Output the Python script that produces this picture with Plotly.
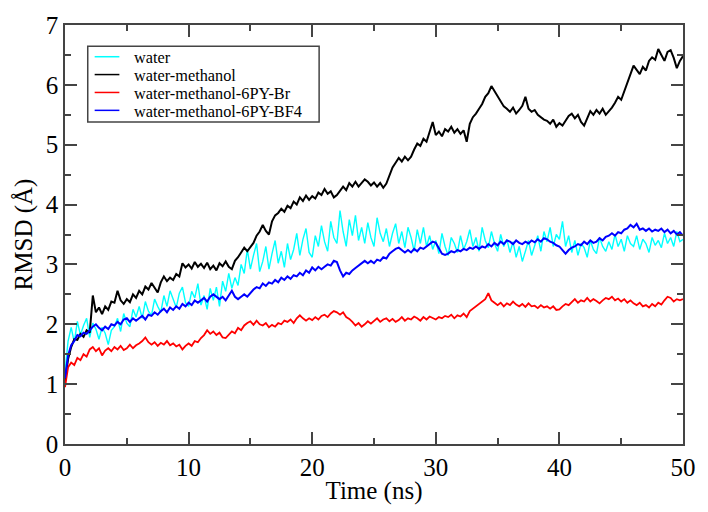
import plotly.graph_objects as go

# ---------------- data (RMSD in Angstrom, sampled every 0.25 ns) ----------------
TIME_STEP = 0.25

water = [
    1.20, 1.72, 1.95, 1.70, 2.05, 1.82, 1.98, 2.10,
    1.78, 2.02, 1.92, 1.75, 1.95, 1.85, 1.66, 1.90,
    1.96, 2.10, 1.88, 2.18, 2.02, 1.96, 2.25, 2.12,
    2.30, 2.10, 2.38, 2.22, 2.15, 2.42, 2.30, 2.20,
    2.48, 2.30, 2.56, 2.40, 2.28, 2.52, 2.62, 2.36,
    2.30, 2.55, 2.44, 2.68, 2.32, 2.48, 2.25, 2.60,
    2.40, 2.62, 2.30, 2.72, 2.55, 2.85, 2.60, 2.78,
    2.65, 3.00, 2.85, 3.25, 2.92, 3.15, 3.35, 2.88,
    3.05, 3.30, 2.92, 3.18, 3.40, 3.02, 3.22, 2.95,
    3.35, 3.08, 3.25, 3.52, 3.15, 3.42, 3.60, 3.20,
    3.12, 3.48, 3.30, 3.65, 3.38, 3.22, 3.72, 3.45,
    3.35, 3.90, 3.55, 3.30, 3.75, 3.48, 3.82, 3.40,
    3.62, 3.35, 3.70, 3.45, 3.30, 3.78, 3.52, 3.38,
    3.60, 3.30, 3.52, 3.68, 3.35, 3.55, 3.28, 3.62,
    3.45, 3.22, 3.58, 3.35, 3.62, 3.30, 3.48, 3.25,
    3.40, 3.18, 3.52, 3.30, 3.15, 3.45, 3.35, 3.20,
    3.48, 3.25, 3.38, 3.58, 3.30, 3.45, 3.22, 3.62,
    3.40, 3.28, 3.55, 3.35, 3.22, 3.50, 3.30, 3.42,
    3.20, 3.38, 3.12, 3.30, 3.05, 3.22, 3.40, 3.15,
    3.30, 3.48, 3.22, 3.55, 3.38, 3.62, 3.30, 3.50,
    3.42, 3.72, 3.30, 3.48, 3.20, 3.40, 3.15, 3.35,
    3.28, 3.12, 3.40, 3.25, 3.18, 3.45, 3.30, 3.22,
    3.38, 3.25, 3.50, 3.30, 3.42, 3.22, 3.48, 3.35,
    3.30, 3.48, 3.25, 3.42, 3.35, 3.20, 3.45, 3.32,
    3.40, 3.28, 3.52, 3.35, 3.45, 3.30, 3.55, 3.38,
    3.42,
]

water_methanol = [
    1.05, 1.42, 1.62, 1.75, 1.74, 1.84, 1.79, 1.90,
    1.86, 2.48, 2.20, 2.28, 2.17, 2.30, 2.24, 2.38,
    2.36, 2.56, 2.40, 2.34, 2.42, 2.37, 2.50, 2.44,
    2.56, 2.50, 2.63, 2.58, 2.69, 2.62, 2.53, 2.70,
    2.80, 2.72, 2.78, 2.74, 2.84, 2.80, 3.02, 2.95,
    3.00, 2.93, 3.04, 2.96, 3.01, 2.94, 3.03, 2.92,
    2.98, 2.90, 3.02, 2.97, 3.05, 2.96, 2.92, 3.06,
    3.12, 3.20, 3.28, 3.22, 3.30, 3.36, 3.48, 3.55,
    3.66, 3.56, 3.50, 3.72, 3.82, 3.86, 3.93, 3.88,
    3.98, 3.94, 4.05, 4.00, 4.12, 4.06, 4.15, 4.08,
    4.14, 4.10, 4.20, 4.16, 4.26, 4.18, 4.22, 4.12,
    4.16, 4.24, 4.30, 4.24, 4.36, 4.30, 4.38, 4.30,
    4.36, 4.42, 4.38, 4.32, 4.37, 4.30, 4.36, 4.28,
    4.35, 4.50, 4.62, 4.70, 4.78, 4.72, 4.80, 4.74,
    4.80, 4.92, 5.02, 4.98, 5.10, 5.05, 5.20, 5.38,
    5.16, 5.22, 5.14, 5.26, 5.22, 5.30, 5.20, 5.26,
    5.18, 5.24, 5.05, 5.35, 5.46, 5.52, 5.60, 5.68,
    5.80, 5.86, 5.98, 5.90, 5.80, 5.72, 5.64, 5.60,
    5.55, 5.62, 5.52, 5.58, 5.65, 5.80, 5.60, 5.55,
    5.58, 5.50, 5.46, 5.42, 5.40, 5.35, 5.42, 5.30,
    5.36, 5.32, 5.40, 5.48, 5.52, 5.44, 5.50, 5.38,
    5.32, 5.45, 5.56, 5.50, 5.58, 5.52, 5.60, 5.50,
    5.56, 5.62, 5.70, 5.80, 5.75, 5.90, 6.02, 6.20,
    6.32, 6.25, 6.18, 6.30, 6.24, 6.40, 6.46, 6.42,
    6.60, 6.50, 6.40, 6.55, 6.58, 6.45, 6.28, 6.40,
    6.48,
]

water_methanol_6py_br = [
    0.95, 1.28, 1.36, 1.32, 1.44, 1.40, 1.50, 1.46,
    1.58, 1.62, 1.55, 1.60, 1.48, 1.56, 1.60, 1.55,
    1.62, 1.58, 1.64, 1.57, 1.60, 1.66, 1.60, 1.65,
    1.68, 1.72, 1.78, 1.70, 1.66, 1.70, 1.64, 1.69,
    1.66, 1.72, 1.65, 1.68, 1.63, 1.66, 1.58, 1.64,
    1.68, 1.64, 1.72, 1.70, 1.77, 1.82, 1.90, 1.84,
    1.88, 1.82, 1.86, 1.78, 1.77, 1.83, 1.88, 1.85,
    1.94, 1.90, 1.98, 2.02, 2.05, 1.99, 2.06, 2.00,
    1.98, 2.02, 1.95, 1.99, 1.96, 2.02, 2.00, 2.06,
    2.04, 2.08, 2.02, 2.10, 2.15, 2.10, 2.06, 2.10,
    2.07, 2.12, 2.08, 2.14, 2.16, 2.12, 2.18, 2.22,
    2.20, 2.16, 2.20, 2.12, 2.09, 2.04, 1.98, 2.02,
    1.96, 2.00, 2.05, 2.01, 2.05, 2.10, 2.04, 2.08,
    2.10, 2.05, 2.09, 2.04, 2.07, 2.12, 2.06, 2.10,
    2.08, 2.13, 2.10, 2.06, 2.12, 2.08, 2.13, 2.10,
    2.08, 2.12, 2.10, 2.14, 2.12, 2.16, 2.10, 2.15,
    2.13, 2.18, 2.12, 2.22, 2.26, 2.30, 2.34, 2.38,
    2.42, 2.52, 2.40, 2.36, 2.32, 2.36, 2.30, 2.35,
    2.32, 2.38, 2.33, 2.30, 2.34, 2.29, 2.35, 2.30,
    2.31, 2.27, 2.32, 2.28, 2.30, 2.26, 2.30, 2.24,
    2.25, 2.30, 2.34, 2.32, 2.37, 2.42, 2.36, 2.40,
    2.38, 2.44, 2.38, 2.42, 2.39, 2.35, 2.40, 2.44,
    2.42, 2.46, 2.40, 2.43, 2.38, 2.42, 2.36, 2.40,
    2.35, 2.32, 2.36, 2.30, 2.32, 2.28, 2.34, 2.30,
    2.36, 2.33, 2.40, 2.46, 2.44, 2.38, 2.42, 2.40,
    2.42,
]

water_methanol_6py_bf4 = [
    1.10, 1.48, 1.65, 1.72, 1.82, 1.80, 1.86, 1.84,
    1.90, 1.96, 2.00, 1.94, 1.90, 1.96, 1.92, 2.00,
    1.98, 2.04, 2.00, 2.08, 2.10, 2.04, 2.10, 2.06,
    2.10, 2.14, 2.08, 2.16, 2.14, 2.20, 2.16, 2.22,
    2.26, 2.20, 2.28, 2.24, 2.30, 2.26, 2.34, 2.30,
    2.36, 2.32, 2.40, 2.36, 2.40, 2.44, 2.38, 2.46,
    2.50, 2.46, 2.42, 2.46, 2.40, 2.48, 2.56, 2.46,
    2.42, 2.46, 2.50, 2.46, 2.52, 2.58, 2.62, 2.60,
    2.68, 2.64, 2.70, 2.68, 2.74, 2.70, 2.78, 2.74,
    2.80, 2.76, 2.82, 2.80, 2.86, 2.82, 2.90, 2.86,
    2.95, 2.90, 2.96, 2.92, 2.96, 3.00, 2.98, 3.06,
    3.04, 2.90, 2.80, 2.86, 2.84, 2.90, 2.94, 2.98,
    3.02, 3.06, 3.02, 3.06, 3.02, 3.08, 3.06, 3.12,
    3.10, 3.18, 3.22, 3.26, 3.28, 3.24, 3.20, 3.24,
    3.20, 3.26, 3.22, 3.28, 3.26, 3.30, 3.34, 3.38,
    3.36, 3.26, 3.18, 3.16, 3.18, 3.22, 3.20, 3.24,
    3.22, 3.26, 3.24, 3.28, 3.26, 3.30, 3.26, 3.30,
    3.28, 3.34, 3.30, 3.36, 3.32, 3.38, 3.34, 3.40,
    3.38, 3.34, 3.40, 3.36, 3.34, 3.38, 3.35, 3.40,
    3.37, 3.42, 3.38, 3.44, 3.42, 3.38, 3.36, 3.32,
    3.30, 3.24, 3.18, 3.24, 3.28, 3.30, 3.34, 3.32,
    3.38, 3.34, 3.40, 3.36, 3.38, 3.44, 3.40, 3.46,
    3.48, 3.52, 3.48, 3.54, 3.52, 3.58, 3.60, 3.66,
    3.62, 3.68, 3.58, 3.60, 3.56, 3.60, 3.55, 3.58,
    3.56, 3.60, 3.54, 3.58, 3.52, 3.56, 3.50, 3.54,
    3.48,
]

time_ns = [round(i * TIME_STEP, 2) for i in range(len(water))]

series_names = ["water", "water-methanol", "water-methanol-6PY-Br", "water-methanol-6PY-BF4"]
series_values = [water, water_methanol, water_methanol_6py_br, water_methanol_6py_bf4]
series_colors = ["#00FFFF", "#000000", "#FF0000", "#0000FF"]
series_widths = [1.4, 2.0, 1.8, 2.0]

x_ticks = [0, 10, 20, 30, 40, 50]
y_ticks = [0, 1, 2, 3, 4, 5, 6, 7]

# ---------------- figure ----------------
FONT = "Liberation Serif"
AXIS_COLOR = "#444444"

fig = go.Figure()
for name, vals, col, w in zip(series_names, series_values, series_colors, series_widths):
    fig.add_trace(go.Scatter(x=time_ns, y=vals, mode="lines", name=name,
                             line=dict(color=col, width=w), showlegend=False))

axis_common = dict(
    showgrid=False, zeroline=False, showline=True, linecolor=AXIS_COLOR, linewidth=1.5,
    mirror="allticks", ticks="inside", ticklen=12, tickwidth=1.5, tickcolor=AXIS_COLOR,
    tickfont=dict(family=FONT, size=25, color="black"),
)

fig.update_layout(
    width=708, height=512,
    margin=dict(l=65, r=18, t=21, b=55),
    paper_bgcolor="white", plot_bgcolor="white",
    font=dict(family=FONT, color="black"),
    xaxis=dict(range=[0, 50], tickvals=x_ticks,
               minor=dict(dtick=5, ticks="inside", ticklen=6, tickwidth=1.5, tickcolor=AXIS_COLOR),
               title=dict(text="Time (ns)", font=dict(family=FONT, size=25), standoff=2),
               **axis_common),
    yaxis=dict(range=[0, 7], tickvals=y_ticks,
               minor=dict(dtick=0.5, ticks="inside", ticklen=6, tickwidth=1.5, tickcolor=AXIS_COLOR),
               title=dict(text="RMSD (Å)", font=dict(family=FONT, size=25), standoff=6),
               **axis_common),
)

# ---------------- legend box (drawn in plot-area paper coordinates) ----------------
legend_rows_y = [0.9243, 0.8817, 0.8390, 0.7963]
fig.add_shape(type="rect", xref="paper", yref="paper", x0=0.0368, x1=0.4112, y0=0.7683, y1=0.9495,
              line=dict(color=AXIS_COLOR, width=1.5), fillcolor="white", layer="above")
for name, col, yy in zip(series_names, series_colors, legend_rows_y):
    fig.add_shape(type="line", xref="paper", yref="paper", x0=0.048, x1=0.088, y0=yy, y1=yy,
                  line=dict(color=col, width=1.5), layer="above")
    fig.add_annotation(xref="paper", yref="paper", x=0.1088, y=yy - 0.003, text=name,
                       showarrow=False, xanchor="left", yanchor="middle",
                       font=dict(family=FONT, size=16.3, color="black"))

fig.write_html("out.html")
